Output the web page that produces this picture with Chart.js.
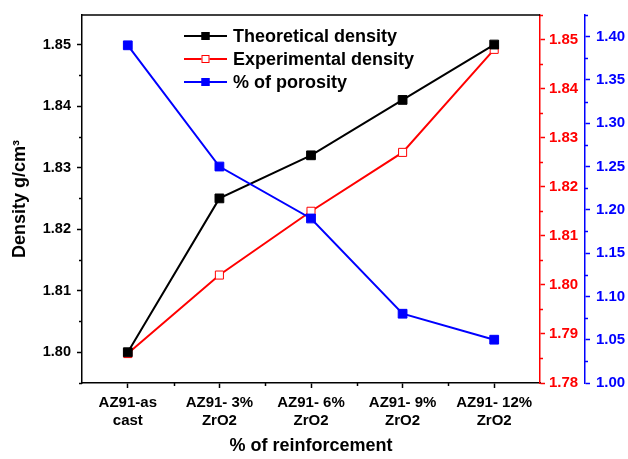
<!DOCTYPE html>
<html>
<head>
<meta charset="utf-8">
<script src="https://cdn.jsdelivr.net/npm/chart.js@4.4.1/dist/chart.umd.min.js"></script>
<style>
    html, body { margin: 0; padding: 0; background: #fff; }
    #wrap { width: 628px; height: 459px; position: relative; }
</style>
</head>
<body>
<div id="wrap"><canvas id="densityChart"></canvas></div>
<script>
// Sample names along the x axis (two-line labels)
const categories = [
    ["AZ91-as", "cast"],
    ["AZ91- 3%", "ZrO2"],
    ["AZ91- 6%", "ZrO2"],
    ["AZ91- 9%", "ZrO2"],
    ["AZ91- 12%", "ZrO2"]
];
const seriesNames = ["Theoretical density", "Experimental density", "% of porosity"];
const theoreticalDensity = [1.800, 1.825, 1.832, 1.841, 1.850];
const experimentalDensity = [1.786, 1.802, 1.815, 1.827, 1.848];
const porosity = [1.39, 1.25, 1.19, 1.08, 1.05];

const xTitle = "% of reinforcement";
const yTitle = "Density g/cm\u00B3";

const BLACK = "#000000";
const RED = "#ff0000";
const BLUE = "#0000ff";

Chart.defaults.font.family = "'Liberation Sans', Arial, sans-serif";
Chart.defaults.font.weight = "bold";
Chart.defaults.color = BLACK;

// short ticks between the labelled ones
const minorSteps = { y: 0.005, yRed: 0.005, yBlue: 0.025 };

const minorTicks = {
    id: "minorTicks",
    afterDraw(chart) {
        const ctx = chart.ctx;
        const area = chart.chartArea;
        ctx.save();
        ctx.lineWidth = 1.5;

        Object.keys(minorSteps).forEach(id => {
            const scale = chart.scales[id];
            const step = minorSteps[id];
            const first = Math.ceil(scale.min / step - 1e-6);
            const last = Math.floor(scale.max / step + 1e-6);
            ctx.strokeStyle = scale.options.border.color;
            for (let k = first; k <= last; k++) {
                if (k % 2 === 0) continue;
                const y = Math.round(scale.getPixelForValue(k * step)) + 0.5;
                ctx.beginPath();
                if (scale.position === "left") {
                    ctx.moveTo(scale.right - 3, y);
                    ctx.lineTo(scale.right, y);
                } else {
                    ctx.moveTo(scale.left, y);
                    ctx.lineTo(scale.left + 3, y);
                }
                ctx.stroke();
            }
        });

        // category boundaries on the x axis
        const xs = chart.scales.x;
        ctx.strokeStyle = BLACK;
        for (let i = 0; i < categories.length - 1; i++) {
            const x = Math.round((xs.getPixelForValue(i) + xs.getPixelForValue(i + 1)) / 2) + 0.5;
            ctx.beginPath();
            ctx.moveTo(x, area.bottom);
            ctx.lineTo(x, area.bottom + 3);
            ctx.stroke();
        }

        // top frame line
        ctx.beginPath();
        ctx.moveTo(area.left, area.top);
        ctx.lineTo(area.right, area.top);
        ctx.stroke();
        ctx.restore();
    }
};

// legend drawn inside the plot, top centre
const insideLegend = {
    id: "insideLegend",
    afterDraw(chart) {
        const ctx = chart.ctx;
        const x0 = 184, x1 = 227, textX = 233;
        const rows = [36, 59, 82];
        ctx.save();
        chart.data.datasets.forEach((ds, i) => {
            const y = rows[i];
            ctx.strokeStyle = ds.borderColor;
            ctx.lineWidth = 2;
            ctx.beginPath();
            ctx.moveTo(x0, y);
            ctx.lineTo(x1, y);
            ctx.stroke();
            const mx = (x0 + x1) / 2;
            ctx.fillStyle = ds.pointBackgroundColor;
            ctx.fillRect(mx - 4, y - 4, 8, 8);
            ctx.strokeStyle = ds.pointBorderColor;
            ctx.lineWidth = 1;
            ctx.strokeRect(mx - 3.5, y - 3.5, 7, 7);
            ctx.fillStyle = BLACK;
            ctx.font = "bold 18px 'Liberation Sans', Arial, sans-serif";
            ctx.textBaseline = "middle";
            ctx.fillText(seriesNames[i], textX, y + 1);
        });
        ctx.restore();
    }
};

const ctx = document.getElementById("densityChart").getContext("2d");
new Chart(ctx, {
    type: "line",
    data: {
        labels: categories,
        datasets: [
            {
                label: seriesNames[0],
                data: theoreticalDensity,
                yAxisID: "y",
                borderColor: BLACK,
                pointBackgroundColor: BLACK,
                pointBorderColor: BLACK,
                borderWidth: 2,
                pointStyle: "rect",
                pointRadius: 6.2,
                pointBorderWidth: 1,
                order: 2
            },
            {
                label: seriesNames[1],
                data: experimentalDensity,
                yAxisID: "yRed",
                borderColor: RED,
                pointBackgroundColor: "#ffffff",
                pointBorderColor: RED,
                borderWidth: 2,
                pointStyle: "rect",
                pointRadius: 5.7,
                pointBorderWidth: 1,
                order: 3
            },
            {
                label: seriesNames[2],
                data: porosity,
                yAxisID: "yBlue",
                borderColor: BLUE,
                pointBackgroundColor: BLUE,
                pointBorderColor: BLUE,
                borderWidth: 2,
                pointStyle: "rect",
                pointRadius: 6.2,
                pointBorderWidth: 1,
                order: 1
            }
        ]
    },
    options: {
        responsive: true,
        maintainAspectRatio: false,
        animation: false,
        layout: { padding: { top: 11, left: 0, right: 0, bottom: 0 } },
        plugins: {
            legend: { display: false },
            tooltip: { enabled: false }
        },
        scales: {
            x: {
                type: "category",
                offset: true,
                grid: { drawOnChartArea: false, offset: false, tickLength: 5, tickColor: BLACK, tickWidth: 1.5 },
                border: { color: BLACK, width: 1.5 },
                ticks: {
                    color: BLACK,
                    padding: 5,
                    maxRotation: 0,
                    autoSkip: false,
                    font: { size: 15, weight: "bold", lineHeight: 1.25 }
                },
                title: {
                    display: true,
                    text: xTitle,
                    color: BLACK,
                    font: { size: 18, weight: "bold" },
                    padding: { top: 2, bottom: 2 }
                },
                afterFit(scale) { scale.height = 76; }
            },
            y: {
                position: "left",
                min: 1.795,
                max: 1.8548,
                grid: { drawOnChartArea: false, tickLength: 5, tickColor: BLACK, tickWidth: 1.5 },
                border: { color: BLACK, width: 1.5 },
                ticks: {
                    stepSize: 0.01,
                    includeBounds: false,
                    padding: 6,
                    color: BLACK,
                    font: { size: 14.5, weight: "bold" },
                    callback: v => v.toFixed(2)
                },
                title: {
                    display: true,
                    text: yTitle,
                    color: BLACK,
                    font: { size: 18, weight: "bold" },
                    padding: { top: 9, bottom: 0 }
                },
                afterFit(scale) { scale.width = 82; }
            },
            yRed: {
                position: "right",
                weight: 0,
                min: 1.78,
                max: 1.855,
                grid: { drawOnChartArea: false, tickLength: 5, tickColor: RED, tickWidth: 1.5 },
                border: { color: RED, width: 1.5 },
                ticks: {
                    stepSize: 0.01,
                    includeBounds: false,
                    padding: 4,
                    color: RED,
                    font: { size: 15, weight: "bold" },
                    callback: v => v.toFixed(2)
                },
                afterFit(scale) { scale.width = 45; }
            },
            yBlue: {
                position: "right",
                weight: 1,
                min: 1.00,
                max: 1.425,
                grid: { drawOnChartArea: false, tickLength: 5, tickColor: BLUE, tickWidth: 1.5 },
                border: { color: BLUE, width: 1.5 },
                ticks: {
                    stepSize: 0.05,
                    includeBounds: false,
                    padding: 6,
                    color: BLUE,
                    font: { size: 15, weight: "bold" },
                    callback: v => v.toFixed(2)
                },
                afterFit(scale) { scale.width = 43; }
            }
        }
    },
    plugins: [minorTicks, insideLegend]
});
</script>
</body>
</html>
